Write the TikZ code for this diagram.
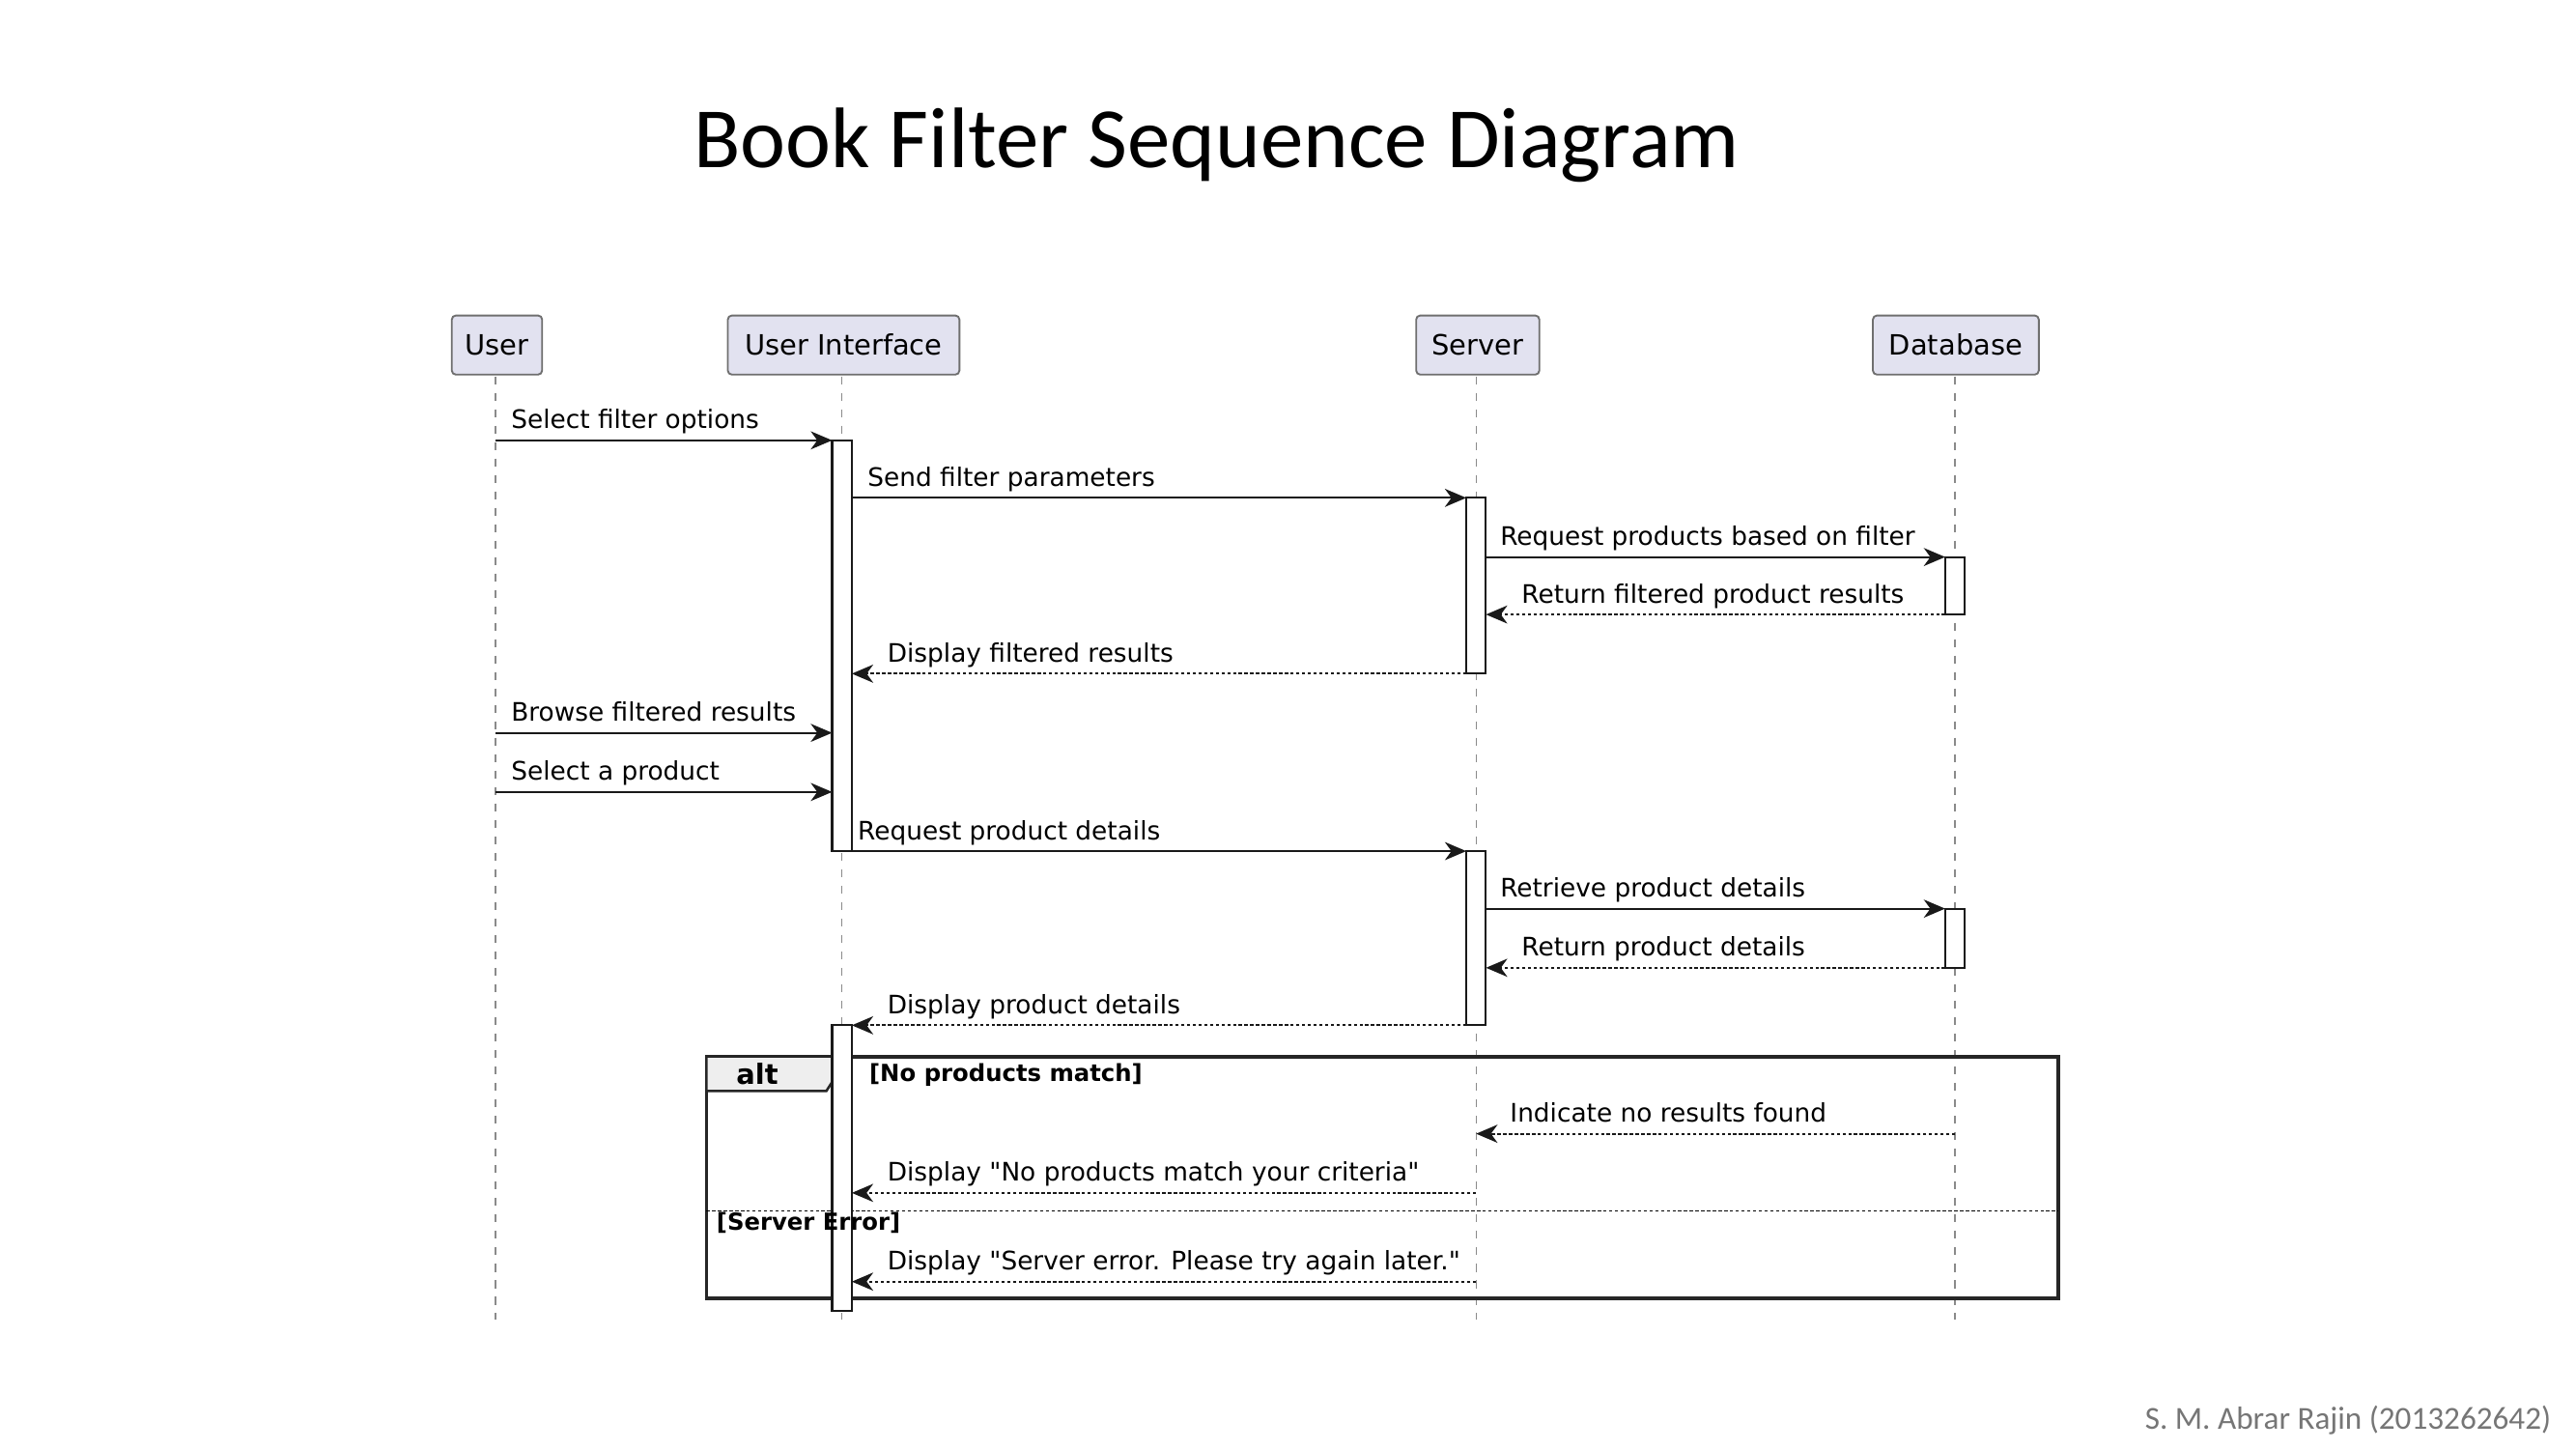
\documentclass[tikz,border=0pt]{standalone}
\usepackage{fontspec}
\setmainfont{DejaVu Sans}
\newfontfamily\umlfont{DejaVu Sans}
\newfontfamily\titlefont{Carlito}
\usetikzlibrary{arrows.meta}
\definecolor{partfill}{HTML}{E2E2F0}
\definecolor{partdraw}{HTML}{6F6F6F}
\definecolor{lifegray}{HTML}{8A8A8A}
\definecolor{footgray}{HTML}{767676}
\definecolor{tabfill}{HTML}{EEEEEE}
\newcommand{\mymsg}[7]{%
  \coordinate (#2a) at (#3,#5);
  \coordinate (#2b) at (#4,#5);
  \draw[#1] (#2a) -- (#2b);
  \node[lbl] (#2t) at (#6,#5-7) {#7};
}
\begin{document}
\begin{tikzpicture}[x=1pt,y=-1pt,
  part/.style={draw=partdraw,fill=partfill,rounded corners=2.5pt,line width=1.1pt,minimum height=36pt,inner sep=0pt,font=\umlfont\fontsize{17}{20}\selectfont},
  life/.style={draw=lifegray,dash pattern=on 5pt off 5pt,line width=0.8pt},
  actbar/.style={draw=black!90,fill=white,line width=1.2pt},
  msg/.style={draw=black!90,line width=1.2pt,-{Stealth[length=13pt,width=11pt,inset=4pt]}},
  ret/.style={msg,dash pattern=on 2pt off 1.5pt},
  lbl/.style={anchor=base west,inner sep=0pt,font=\umlfont\fontsize{15.5}{18}\selectfont},
  guard/.style={anchor=base west,inner sep=0pt,font=\umlfont\bfseries\fontsize{14.3}{16}\selectfont},
]
\useasboundingbox (0,0) rectangle (1568,882);
\fill[white] (0,0) rectangle (1568,882);

% title and footer
\node[anchor=base west,inner sep=0pt,font=\titlefont\fontsize{52.3}{60}\selectfont] (title) at (422,102) {Book Filter Sequence Diagram};
\node[anchor=base east,inner sep=0pt,text=footgray,font=\titlefont\fontsize{19.5}{22}\selectfont] (foot) at (1553,870) {S. M. Abrar Rajin (2013262642)};

% participants
\node[part,minimum width=55pt] (pU) at (302.5,210) {User};
\node[part,minimum width=141pt] (pI) at (513.5,210) {User Interface};
\node[part,minimum width=75pt] (pS) at (899.5,210) {Server};
\node[part,minimum width=101pt] (pD) at (1190.5,210) {Database};

% lifelines
\coordinate (eU) at (301.5,803);
\coordinate (eI) at (512.5,803);
\coordinate (eS) at (898.5,803);
\coordinate (eD) at (1190,803);
\draw[life] (301.5,229) -- (eU);
\draw[life] (512.5,229) -- (eI);
\draw[life] (898.5,229) -- (eS);
\draw[life] (1190,229) -- (eD);

% alt frame
\draw[line width=2.2pt,draw=black!85] (430,643) rectangle (1253,790);
\draw[line width=1.5pt,draw=black!85,fill=tabfill] (430,643) -- (512,643) -- (512,650) -- (503,664) -- (430,664) -- cycle;
\draw[dash pattern=on 2pt off 1.5pt,line width=0.9pt] (430,737) -- (1253,737);

% activation bars
\draw[actbar] (506.5,268) rectangle (518.5,518);
\draw[actbar] (892.5,303) rectangle (904.5,410);
\draw[actbar] (1184,339) rectangle (1196,374);
\draw[actbar] (892.5,518) rectangle (904.5,624);
\draw[actbar] (1184,553) rectangle (1196,589);
\draw[actbar] (506.5,624) rectangle (518.5,798);

% messages
\mymsg{msg}{m1}{301.5}{506.5}{268}{311}{Select filter options}
\mymsg{msg}{m2}{518.5}{892.5}{303}{528}{Send filter parameters}
\mymsg{msg}{m3}{904.5}{1184}{339}{913}{Request products based on filter}
\mymsg{ret}{m4}{1184}{904.5}{374}{926}{Return filtered product results}
\mymsg{ret}{m5}{892.5}{518.5}{410}{540}{Display filtered results}
\mymsg{msg}{m6}{301.5}{506.5}{446}{311}{Browse filtered results}
\mymsg{msg}{m7}{301.5}{506.5}{482}{311}{Select a product}
\mymsg{msg}{m8}{518.5}{892.5}{518}{522}{Request product details}
\mymsg{msg}{m9}{904.5}{1184}{553}{913}{Retrieve product details}
\mymsg{ret}{m10}{1184}{904.5}{589}{926}{Return product details}
\mymsg{ret}{m11}{892.5}{518.5}{624}{540}{Display product details}
\mymsg{ret}{m12}{1190}{898.5}{690}{919}{Indicate no results found}
\mymsg{ret}{m13}{898.5}{518.5}{726}{540}{Display "No products match your criteria"}
\mymsg{ret}{m14}{898.5}{518.5}{780}{540}{Display "Server error. Please try again later."}

% frame texts
\node[anchor=base west,inner sep=0pt,font=\umlfont\bfseries\fontsize{17}{20}\selectfont] (altlbl) at (448,660) {alt};
\node[guard] (g1) at (529,658) {[No products match]};
\node[guard] (g2) at (436,749) {[Server Error]};
\end{tikzpicture}
\end{document}
